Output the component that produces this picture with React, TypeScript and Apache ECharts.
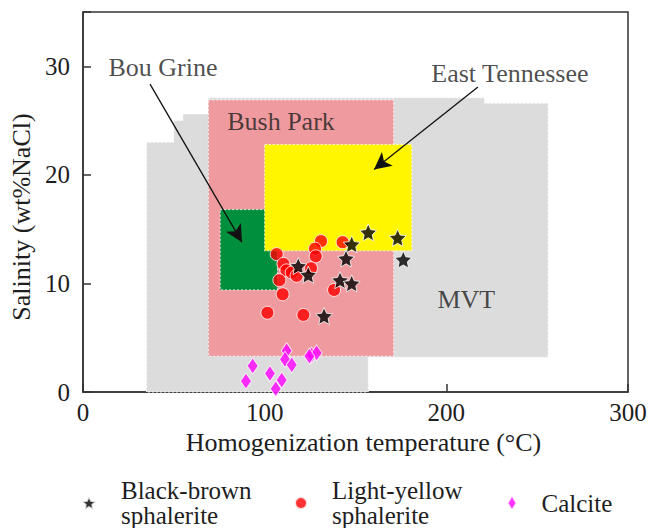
import React, { useEffect, useRef } from "react";
import * as echarts from "echarts";

// ---- Data ----
const seriesNames = ["Black-brown sphalerite", "Light-yellow sphalerite", "Calcite"];

const blackBrown: [number, number][] = [
  [157.0, 14.7], [173.2, 14.2], [176.3, 12.2], [147.9, 13.6], [144.8, 12.3],
  [141.5, 10.3], [147.9, 10.0], [132.7, 7.0], [118.5, 11.6], [124.0, 10.8],
];

const lightYellow: [number, number][] = [
  [131.0, 13.9], [142.9, 13.8], [127.7, 13.2], [128.1, 12.5], [106.6, 12.7],
  [110.3, 11.8], [112.0, 11.2], [114.9, 11.0], [117.6, 10.7], [125.5, 11.4],
  [108.1, 10.3], [109.9, 9.0], [138.2, 9.4], [101.5, 7.3], [121.3, 7.1],
];

const calcite: [number, number][] = [
  [112.1, 3.8], [111.2, 3.0], [114.9, 2.5], [93.4, 2.4], [89.7, 1.0],
  [102.9, 1.7], [109.4, 1.1], [106.1, 0.3], [125.9, 3.4], [128.6, 3.6], [124.6, 3.3],
];

// Field outlines (temperature °C, salinity wt%)
const mvtOutline: [number, number][] = [
  [35, 0], [35, 23], [50, 23], [50, 25], [55, 25], [55, 25.6], [69, 25.6], [69, 27.1],
  [221, 27.1], [221, 26.6], [256, 26.6], [256, 3.2], [157, 3.2], [157, 0],
];
const bushParkBox = [69, 3.3, 171, 26.9]; // xMin, yMin, xMax, yMax
const bouGrineBox = [75.5, 9.4, 107, 16.8];
const eastTennesseeBox = [100, 13.0, 181, 22.8];

const annotationLabels: [number, number, string][] = [
  [44, 29.9, "Bou Grine"],
  [235, 29.3, "East Tennessee"],
  [109, 24.9, "Bush Park"],
  [211, 8.5, "MVT"],
];
const bouGrineArrow: [number, number][] = [[36.9, 28.35], [87.5, 13.8]];
const eastTennesseeArrow: [number, number][] = [[217.4, 28.1], [160.2, 20.5]];

const xTicks = { min: 0, max: 300, interval: 100 };
const yTicks = { min: 0, max: 35, interval: 10 };

// ---- Styles ----
const FONT = "Liberation Serif";
const TEXT = "#1e1e1e";

function starPath(): string {
  let d = "";
  for (let i = 0; i < 10; i++) {
    const r = i % 2 === 0 ? 50 : 24;
    const a = -Math.PI / 2 + (i * Math.PI) / 5;
    const x = 50 + r * Math.cos(a);
    const y = 50 + r * Math.sin(a);
    d += (i === 0 ? "M" : "L") + x.toFixed(2) + "," + y.toFixed(2) + " ";
  }
  return "path://" + d + "Z";
}

export default function App() {
  const ref = useRef<HTMLDivElement>(null);

  useEffect(() => {
    if (!ref.current) return;
    const chart = echarts.init(ref.current, null, { renderer: "svg" });

    const boxes = [bushParkBox, bouGrineBox, eastTennesseeBox];
    const fills = ["#DCDCDC", "#EE9A9E", "#008F3C", "#FFF600"];
    const regionData = [
      [150, 10],
      [(bushParkBox[0] + bushParkBox[2]) / 2, (bushParkBox[1] + bushParkBox[3]) / 2],
      [(bouGrineBox[0] + bouGrineBox[2]) / 2, (bouGrineBox[1] + bouGrineBox[3]) / 2],
      [(eastTennesseeBox[0] + eastTennesseeBox[2]) / 2, (eastTennesseeBox[1] + eastTennesseeBox[3]) / 2],
    ];

    const legendText = (name: string) =>
      name
        .split(" ")
        .map((s) => "{g| }" + s)
        .join("\n");

    const legendCommon = {
      orient: "horizontal",
      padding: 0,
      selectedMode: false,
      formatter: legendText,
      textStyle: {
        fontFamily: FONT,
        fontSize: 25,
        lineHeight: 25,
        color: TEXT,
        rich: { g: { width: 20, lineHeight: 25 } },
      },
    };

    const option: any = {
      animation: false,
      backgroundColor: "#fff",
      grid: {
        left: 83,
        right: 22,
        top: 12,
        bottom: 136,
        show: true,
        borderColor: "#333",
        borderWidth: 1.5,
        backgroundColor: "transparent",
      },
      legend: [
        { ...legendCommon, data: [seriesNames[0]], left: 81, top: 478, itemWidth: 14, itemHeight: 14 },
        { ...legendCommon, data: [seriesNames[1]], left: 294, top: 478, itemWidth: 12, itemHeight: 12 },
        { ...legendCommon, data: [seriesNames[2]], left: 506.5, top: 490.5, itemWidth: 9, itemHeight: 15 },
      ],
      xAxis: {
        type: "value",
        min: xTicks.min,
        max: xTicks.max,
        interval: xTicks.interval,
        name: "Homogenization temperature (°C)",
        nameLocation: "middle",
        nameGap: 35,
        nameTextStyle: { fontFamily: FONT, fontSize: 26, color: TEXT, padding: [0, 0, 0, 16] },
        axisLine: { show: true, lineStyle: { color: "#333", width: 1.5 } },
        axisTick: { show: true, inside: true, length: 8, lineStyle: { color: "#333", width: 1.5 } },
        axisLabel: { fontFamily: FONT, fontSize: 25, color: TEXT, margin: 8 },
        splitLine: { show: false },
      },
      yAxis: {
        type: "value",
        min: yTicks.min,
        max: yTicks.max,
        interval: yTicks.interval,
        name: "Salinity (wt%NaCl)",
        nameLocation: "middle",
        nameGap: 48,
        nameTextStyle: { fontFamily: FONT, fontSize: 26, color: TEXT, padding: [0, 30, 0, 0] },
        axisLine: { show: true, lineStyle: { color: "#333", width: 1.5 } },
        axisTick: { show: true, inside: true, length: 8, lineStyle: { color: "#333", width: 1.5 } },
        axisLabel: {
          fontFamily: FONT,
          fontSize: 25,
          color: TEXT,
          margin: 13,
          formatter: (v: number) => (v === yTicks.max ? "" : String(v)),
        },
        splitLine: { show: false },
      },
      series: [
        {
          type: "custom",
          name: "fields",
          silent: true,
          z: 1,
          data: regionData,
          renderItem: (params: any, api: any) => {
            const i = params.dataIndex;
            const style = {
              fill: fills[i],
              stroke: "rgba(255,255,255,0.85)",
              lineWidth: 1,
              lineDash: [2, 2],
            };
            if (i === 0) {
              const pts = mvtOutline.map((p) => api.coord(p));
              return { type: "polygon", shape: { points: pts }, style };
            }
            const b = boxes[i - 1];
            const p1 = api.coord([b[0], b[3]]);
            const p2 = api.coord([b[2], b[1]]);
            return {
              type: "rect",
              shape: { x: p1[0], y: p1[1], width: p2[0] - p1[0], height: p2[1] - p1[1] },
              style,
            };
          },
        },
        {
          type: "scatter",
          name: "annotations",
          silent: true,
          z: 3,
          symbolSize: 1,
          itemStyle: { color: "transparent" },
          data: annotationLabels,
          label: {
            show: true,
            position: "inside",
            formatter: (p: any) => p.value[2],
            fontFamily: FONT,
            fontSize: 26,
            color: TEXT,
          },
          markLine: {
            silent: true,
            symbol: ["none", "arrow"],
            symbolSize: [13, 17],
            label: { show: false },
            lineStyle: { color: "#111", width: 1.3, type: "solid" },
            data: [
              [{ coord: bouGrineArrow[0] }, { coord: bouGrineArrow[1] }],
              [{ coord: eastTennesseeArrow[0] }, { coord: eastTennesseeArrow[1] }],
            ],
          },
        },
        {
          type: "scatter",
          name: seriesNames[2],
          z: 4,
          symbol: "diamond",
          symbolSize: [11, 16],
          itemStyle: { color: "#FF00FF", borderColor: "#ffffff", borderWidth: 1 },
          data: calcite,
        },
        {
          type: "scatter",
          name: seriesNames[1],
          z: 4,
          symbol: "circle",
          symbolSize: 13,
          itemStyle: { color: "#FF0000", borderColor: "#ffffff", borderWidth: 1 },
          data: lightYellow,
        },
        {
          type: "scatter",
          name: seriesNames[0],
          z: 5,
          symbol: starPath(),
          symbolSize: 17,
          itemStyle: { color: "#000000", borderColor: "#ffffff", borderWidth: 1 },
          data: blackBrown,
        },
      ],
    };

    chart.setOption(option);
    return () => chart.dispose();
  }, []);

  return (
    <div
      ref={ref}
      style={{ position: "absolute", left: 0, top: 0, width: 650, height: 528 }}
    />
  );
}
